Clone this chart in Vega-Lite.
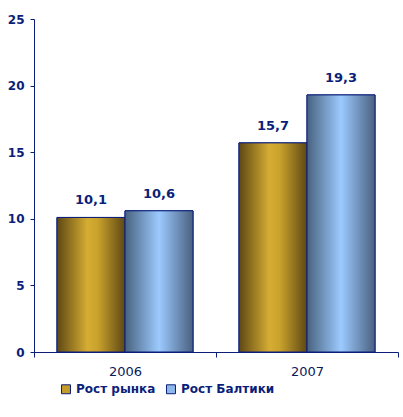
{
  "$schema": "https://vega.github.io/schema/vega-lite/v6.json",
  "width": 364,
  "height": 333,
  "autosize": "none",
  "padding": {"left": 34, "top": 19, "right": 5, "bottom": 65},
  "background": "white",
  "data": {"values": [
    {"year": "2006", "s": "Рост рынка", "v": 10.1, "label": "10,1"},
    {"year": "2006", "s": "Рост Балтики", "v": 10.6, "label": "10,6"},
    {"year": "2007", "s": "Рост рынка", "v": 15.7, "label": "15,7"},
    {"year": "2007", "s": "Рост Балтики", "v": 19.3, "label": "19,3"}
  ]},
  "encoding": {
    "x": {"field": "year", "type": "nominal",
      "scale": {"paddingInner": 0, "paddingOuter": 0},
      "axis": {"title": null, "labelAngle": 0, "tickBand": "extent", "domainColor": "#0b1f7a", "tickColor": "#0b1f7a", "tickSize": 5,
        "labelFont": "DejaVu Sans", "labelFontSize": 13, "labelColor": "#0a1a5c", "labelPadding": 8}},
    "xOffset": {"field": "s", "type": "nominal", "sort": ["Рост рынка", "Рост Балтики"],
      "scale": {"paddingInner": 0, "paddingOuter": 0.338}},
    "y": {"field": "v", "type": "quantitative",
      "scale": {"domain": [0, 25]},
      "axis": {"title": null, "values": [0, 5, 10, 15, 20, 25], "grid": false, "domainColor": "#0b1f7a", "tickColor": "#0b1f7a", "tickSize": 4,
        "labelFont": "DejaVu Sans", "labelFontWeight": "bold", "labelFontSize": 12, "labelColor": "#0b1f7a", "labelPadding": 6}}
  },
  "layer": [
    {
      "mark": {"type": "bar", "stroke": "#0b1f7a", "strokeWidth": 1},
      "encoding": {
        "color": {"field": "s", "type": "nominal", "sort": ["Рост рынка", "Рост Балтики"],
          "scale": {"domain": ["Рост рынка", "Рост Балтики"], "range": ["#c49c2a", "#8fb8ea"]},
          "legend": {"title": null, "orient": "none", "legendX": 26, "legendY": 364, "direction": "horizontal",
            "symbolType": "square", "symbolSize": 80, "symbolStrokeColor": "#0b1f7a", "symbolStrokeWidth": 1,
            "labelFont": "DejaVu Sans", "labelFontWeight": "bold", "labelFontSize": 12, "labelColor": "#0b1f7a", "columnPadding": 8, "labelOffset": 4}}
      }
    },
    {
      "mark": {"type": "bar", "stroke": "#0b1f7a", "strokeWidth": 1},
      "encoding": {
        "fill": {
          "condition": {"test": "datum.s === 'Рост рынка'",
            "value": {"gradient": "linear", "x1": 0, "x2": 1, "y1": 0, "y2": 0,
              "stops": [{"offset": 0, "color": "#5e4814"}, {"offset": 0.45, "color": "#d6ad33"}, {"offset": 0.6, "color": "#c9a22c"}, {"offset": 1, "color": "#5e4814"}]}},
          "value": {"gradient": "linear", "x1": 0, "x2": 1, "y1": 0, "y2": 0,
            "stops": [{"offset": 0, "color": "#48627f"}, {"offset": 0.5, "color": "#9ccaff"}, {"offset": 1, "color": "#4a6080"}]}
        }
      }
    },
    {
      "mark": {"type": "text", "baseline": "bottom", "dy": -10, "font": "DejaVu Sans", "fontWeight": "bold", "fontSize": 13, "color": "#0b1f7a"},
      "encoding": {"text": {"field": "label"}}
    }
  ],
  "config": {"view": {"stroke": null}}
}
